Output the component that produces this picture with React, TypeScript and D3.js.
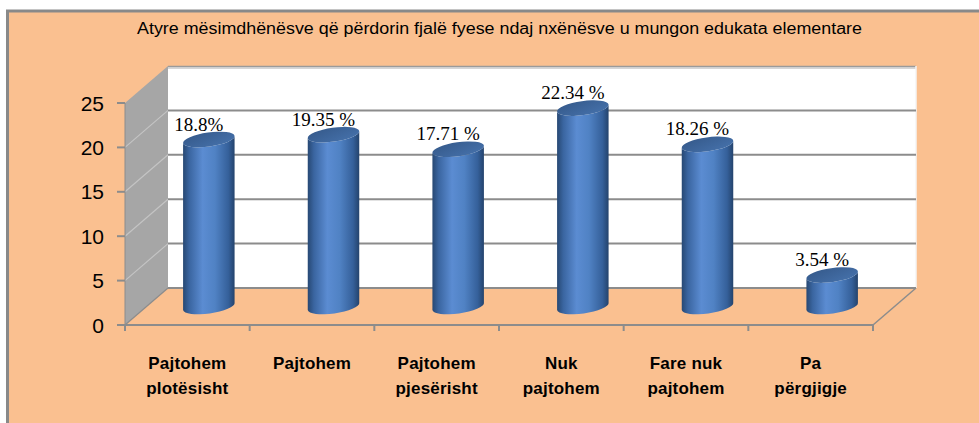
import React from "react";
import * as d3 from "d3";

const title =
  "Atyre mësimdhënësve që përdorin fjalë fyese ndaj nxënësve u mungon edukata elementare";
const categories: string[][] = [
  ["Pajtohem", "plotësisht"],
  ["Pajtohem"],
  ["Pajtohem", "pjesërisht"],
  ["Nuk", "pajtohem"],
  ["Fare nuk", "pajtohem"],
  ["Pa", "përgjigje"],
];
const values = [18.8, 19.35, 17.71, 22.34, 18.26, 3.54];
const valueLabels = ["18.8%", "19.35 %", "17.71 %", "22.34 %", "18.26 %", "3.54 %"];
const yTicks = [0, 5, 10, 15, 20, 25];

const W = 979;
const H = 423;
const BG = "#FAC090";
const GRID = "#8C8C8C";
const SANS = "'Liberation Sans', Arial, sans-serif";
const SERIF = "'Liberation Serif', 'Times New Roman', serif";

export default function App() {
  const frontX0 = 125;
  const frontX1 = 873;
  const depthDX = 43;
  const depthDY = -37;
  const x = d3.scaleBand<number>().domain(d3.range(categories.length)).range([frontX0, frontX1]);
  const yF = d3.scaleLinear().domain([0, 25]).range([325, 103]);
  const yB = (v: number) => yF(v) + depthDY;
  const backX0 = frontX0 + depthDX;
  const backX1 = frontX1 + depthDX;

  const rx = 26;
  const ry = 7;
  const ang = -8;
  const a = (ang * Math.PI) / 180;
  const ex = rx * Math.cos(a);
  const ey = rx * Math.sin(a);
  const midDX = depthDX / 2;
  const midDY = depthDY / 2;

  const boundaries = d3.range(categories.length + 1).map((i) => frontX0 + i * x.step());

  return (
    <svg
      width={W}
      height={H}
      style={{ position: "absolute", left: 0, top: 0 }}
      xmlns="http://www.w3.org/2000/svg"
    >
      <defs>
        <linearGradient id="cyl" x1="0" x2="1" y1="0" y2="0">
          <stop offset="0%" stopColor="#274873" />
          <stop offset="12%" stopColor="#3A65A0" />
          <stop offset="38%" stopColor="#5B8CD2" />
          <stop offset="62%" stopColor="#5082C4" />
          <stop offset="88%" stopColor="#35609A" />
          <stop offset="100%" stopColor="#24436C" />
        </linearGradient>
        <linearGradient id="cyltop" x1="0" x2="1" y1="0" y2="1">
          <stop offset="0%" stopColor="#35598A" />
          <stop offset="100%" stopColor="#4672AC" />
        </linearGradient>
      </defs>
      <rect x={0} y={0} width={W} height={H} fill="#ffffff" />
      <rect x={7.5} y={11} width={990} height={430} fill={BG} stroke="#898989" strokeWidth={3} />

      <text
        x={137}
        y={34}
        textLength={725}
        lengthAdjust="spacingAndGlyphs"
        fontFamily={SANS}
        fontSize={16}
        fill="#000"
      >
        {title}
      </text>

      {/* left wall */}
      <polygon
        points={`${frontX0},${yF(0)} ${frontX0},${yF(25)} ${backX0},${yB(25)} ${backX0},${yB(0)}`}
        fill="#A6A6A6"
      />
      {/* back wall */}
      <rect x={backX0} y={yB(25)} width={backX1 - backX0} height={yB(0) - yB(25)} fill="#ffffff" />
      <line x1={backX0} x2={backX1} y1={yB(25) + 0.5} y2={yB(25) + 0.5} stroke="#9A9A9A" strokeWidth={1.5} />
      <line x1={backX0} x2={backX1} y1={yB(25) + 2} y2={yB(25) + 2} stroke="#C8C8C8" strokeWidth={1.5} />
      <line x1={backX1} x2={backX1} y1={yB(25)} y2={yB(0)} stroke="#F4F4F4" strokeWidth={1.5} />

      {/* gridlines */}
      {yTicks.slice(0, 5).map((t) => (
        <g key={`g${t}`}>
          <line x1={frontX0} y1={yF(t)} x2={backX0} y2={yB(t)} stroke={t === 0 ? GRID : "#C4C4C4"} strokeWidth={1.2} />
          <line x1={backX0} x2={backX1} y1={yB(t)} y2={yB(t)} stroke={GRID} strokeWidth={2} />
        </g>
      ))}
      {/* floor right edge */}
      <line x1={frontX1} y1={yF(0)} x2={backX1} y2={yB(0)} stroke={GRID} strokeWidth={1.5} />
      {/* front axis */}
      <line x1={frontX0} x2={frontX1} y1={yF(0)} y2={yF(0)} stroke={GRID} strokeWidth={2} />
      <line x1={frontX0} x2={frontX0} y1={yF(25)} y2={yF(0)} stroke={GRID} strokeWidth={1} />
      {boundaries.map((bx, i) => (
        <line key={`ct${i}`} x1={bx} x2={bx} y1={yF(0)} y2={yF(0) + 6} stroke={GRID} strokeWidth={2} />
      ))}
      {yTicks.map((t) => (
        <g key={`yt${t}`}>
          <line x1={frontX0 - 8} x2={frontX0} y1={yF(t)} y2={yF(t)} stroke={GRID} strokeWidth={2} />
          <text
            x={104}
            y={yF(t)}
            dy="0.36em"
            textAnchor="end"
            fontFamily={SANS}
            fontSize={21}
            fill="#000"
          >
            {t}
          </text>
        </g>
      ))}

      {/* cylinders */}
      {values.map((v, i) => {
        const cx = (x(i) as number) + x.bandwidth() / 2 + midDX;
        const cyB = yF(0) + midDY;
        const cyT = yF(v) + midDY;
        const body = `M${cx - ex},${cyT - ey} L${cx - ex},${cyB - ey} A${rx},${ry} ${ang} 0 0 ${cx + ex},${cyB + ey} L${cx + ex},${cyT + ey} A${rx},${ry} ${ang} 0 1 ${cx - ex},${cyT - ey} Z`;
        return (
          <g key={`c${i}`}>
            <path d={body} fill="url(#cyl)" />
            <ellipse
              cx={cx}
              cy={cyT}
              rx={rx}
              ry={ry}
              transform={`rotate(${ang},${cx},${cyT})`}
              fill="url(#cyltop)"
            />
            <text
              x={cx - 10}
              y={cyT - 9}
              textAnchor="middle"
              fontFamily={SERIF}
              fontSize={19}
              fill="#000"
            >
              {valueLabels[i]}
            </text>
          </g>
        );
      })}

      {/* category labels */}
      {categories.map((lines, i) => {
        const cx = (x(i) as number) + x.bandwidth() / 2;
        return (
          <text
            key={`cl${i}`}
            textAnchor="middle"
            fontFamily={SANS}
            fontWeight="bold"
            fontSize={17}
            letterSpacing={0.2}
            fill="#000"
          >
            {lines.map((l, j) => (
              <tspan key={j} x={cx} y={369 + j * 25}>
                {l}
              </tspan>
            ))}
          </text>
        );
      })}
    </svg>
  );
}
